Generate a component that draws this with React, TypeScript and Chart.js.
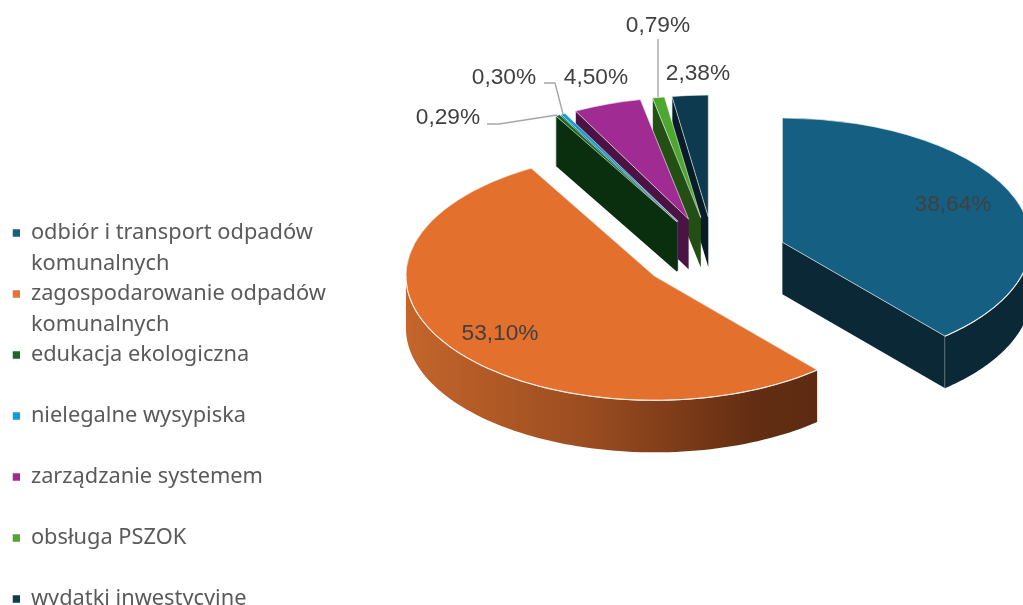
import React, { useEffect, useRef } from "react";
import { Chart, registerables } from "chart.js";

Chart.register(...registerables);

const categories: string[][] = [
  ["odbiór i transport odpadów", "komunalnych"],
  ["zagospodarowanie odpadów", "komunalnych"],
  ["edukacja ekologiczna", ""],
  ["nielegalne wysypiska", ""],
  ["zarządzanie systemem", ""],
  ["obsługa PSZOK", ""],
  ["wydatki inwestycyjne"],
];
const shares = [38.64, 53.1, 0.29, 0.3, 4.5, 0.79, 2.38];
const topColors = ["#156082", "#E4702E", "#196B24", "#0F9ED5", "#A02B93", "#4EA72E", "#0E3A50"];
const legendColors = ["#156082", "#E97132", "#196B24", "#0F9ED5", "#A02B93", "#4EA72E", "#0F3B52"];
const sideColors = ["#0A2836", "#5E2B12", "#0A2F0E", "#074F6A", "#4A1344", "#234F14", "#071C27"];

const TEXT = "#404040";
const LEGEND_TEXT = "#5A5A5A";
const CX = 714;
const CY = 255;
const SQUASH = 0.5;
const drawOrder = [6, 5, 4, 3, 2, 0, 1];
const labelAnchors = [
  [953, 205], [500, 334], [448, 118], [504, 78], [596, 78], [658, 26], [698, 74],
];
const leaders: number[][][] = [
  [[487, 124], [499, 124], [557, 115]],
  [[544, 83], [555, 83], [563, 114]],
  [[658, 39], [658, 97]],
];

const fmt = (v: number) => v.toFixed(2).replace(".", ",") + "%";

const pie3d = {
  id: "pie3d",
  beforeDatasetsDraw(chart: any) {
    const ctx: CanvasRenderingContext2D = chart.ctx;
    const arcs = chart.getDatasetMeta(0).data;
    const H = Math.PI / 2;
    drawOrder.forEach((i) => {
      const el = arcs[i];
      const big = i < 2;
      const scale = big ? 1 : 244 / el.outerRadius;
      const explode = big ? 73 : 76;
      const depth = big ? 52 : 50;
      const r = el.outerRadius * scale;
      const s = el.startAngle + H;
      const e = el.endAngle + H;
      const m = (s + e) / 2;
      const ax = CX + Math.sin(m) * explode;
      const ay = CY - Math.cos(m) * SQUASH * explode;
      const pt = (t: number, rad: number): [number, number] => [
        ax + rad * Math.sin(t),
        ay - rad * Math.cos(t) * SQUASH,
      ];
      const fill = i === 1
        ? (() => {
            const g = ctx.createLinearGradient(406, 0, 818, 0);
            g.addColorStop(0, "#C4652B");
            g.addColorStop(0.45, "#9A4C20");
            g.addColorStop(0.85, "#622D12");
            g.addColorStop(1, sideColors[1]);
            return g;
          })()
        : sideColors[i];
      ctx.save();
      ctx.fillStyle = fill;
      ctx.strokeStyle = "rgba(225,232,235,0.75)";
      ctx.lineWidth = 1;
      const face = (t: number) => {
        const [x, y] = pt(t, r);
        ctx.beginPath();
        ctx.moveTo(ax, ay);
        ctx.lineTo(x, y);
        ctx.lineTo(x, y + depth);
        ctx.lineTo(ax, ay + depth);
        ctx.closePath();
        ctx.fill();
        ctx.beginPath();
        ctx.moveTo(x, y);
        ctx.lineTo(x, y + depth);
        ctx.stroke();
      };
      if (Math.sin(s) < -1e-6) face(s);
      if (Math.sin(e) > 1e-6) face(e);
      const a = Math.max(s, H);
      const b = Math.min(e, 3 * H);
      const N = 80;
      if (b > a) {
        ctx.beginPath();
        for (let k = 0; k <= N; k++) {
          const [x, y] = pt(a + ((b - a) * k) / N, r);
          if (k === 0) ctx.moveTo(x, y);
          else ctx.lineTo(x, y);
        }
        for (let k = N; k >= 0; k--) {
          const [x, y] = pt(a + ((b - a) * k) / N, r);
          ctx.lineTo(x, y + depth);
        }
        ctx.closePath();
        ctx.fill();
      }
      ctx.restore();

      ctx.save();
      ctx.translate(ax, ay);
      ctx.scale(scale, SQUASH * scale);
      ctx.translate(-el.x, -el.y);
      el.draw(ctx);
      ctx.restore();

      if (b > a) {
        ctx.save();
        ctx.strokeStyle = "rgba(250,240,232,0.9)";
        ctx.lineWidth = 1.1;
        ctx.beginPath();
        for (let k = 0; k <= N; k++) {
          const [x, y] = pt(a + ((b - a) * k) / N, r);
          if (k === 0) ctx.moveTo(x, y);
          else ctx.lineTo(x, y);
        }
        ctx.stroke();
        ctx.restore();
      }
    });

    ctx.save();
    ctx.strokeStyle = "#A6A6A6";
    ctx.lineWidth = 1.4;
    leaders.forEach((line) => {
      ctx.beginPath();
      line.forEach(([x, y], k) => (k ? ctx.lineTo(x, y) : ctx.moveTo(x, y)));
      ctx.stroke();
    });
    ctx.fillStyle = TEXT;
    ctx.font = '22.7px "Liberation Sans"';
    ctx.textAlign = "center";
    ctx.textBaseline = "middle";
    shares.forEach((v, i) => ctx.fillText(fmt(v), labelAnchors[i][0], labelAnchors[i][1]));
    ctx.restore();
    return false;
  },
};

export default function App() {
  const ref = useRef<HTMLCanvasElement | null>(null);
  useEffect(() => {
    const chart = new Chart(ref.current!, {
      type: "pie",
      data: {
        labels: categories.map((c) => c.join(" ")),
        datasets: [
          {
            data: shares,
            backgroundColor: topColors,
            borderColor: "rgba(235,240,242,0.85)",
            borderWidth: 1,
          },
        ],
      },
      options: {
        responsive: false,
        animation: false,
        events: [],
        radius: 248.5,
        layout: { padding: { left: 12.5, top: 222, right: 0, bottom: 0 } },
        plugins: {
          tooltip: { enabled: false },
          legend: {
            position: "left",
            align: "start",
            labels: {
              boxWidth: 7.5,
              boxHeight: 7.5,
              padding: 0,
              color: LEGEND_TEXT,
              font: { size: 21.8, family: '"Noto Sans"', lineHeight: "30.5px" },
              generateLabels: () =>
                categories.map((c, i) => ({
                  text: c,
                  fillStyle: legendColors[i],
                  strokeStyle: legendColors[i],
                  fontColor: LEGEND_TEXT,
                  lineWidth: 0,
                  hidden: false,
                  index: i,
                })),
            },
          },
        },
      } as any,
      plugins: [pie3d],
    });
    return () => chart.destroy();
  }, []);
  return (
    <div style={{ position: "absolute", left: 0, top: 0, width: 1023, height: 605, overflow: "hidden", background: "#fff" }}>
      <canvas ref={ref} width={1023} height={660} style={{ display: "block" }} />
    </div>
  );
}
